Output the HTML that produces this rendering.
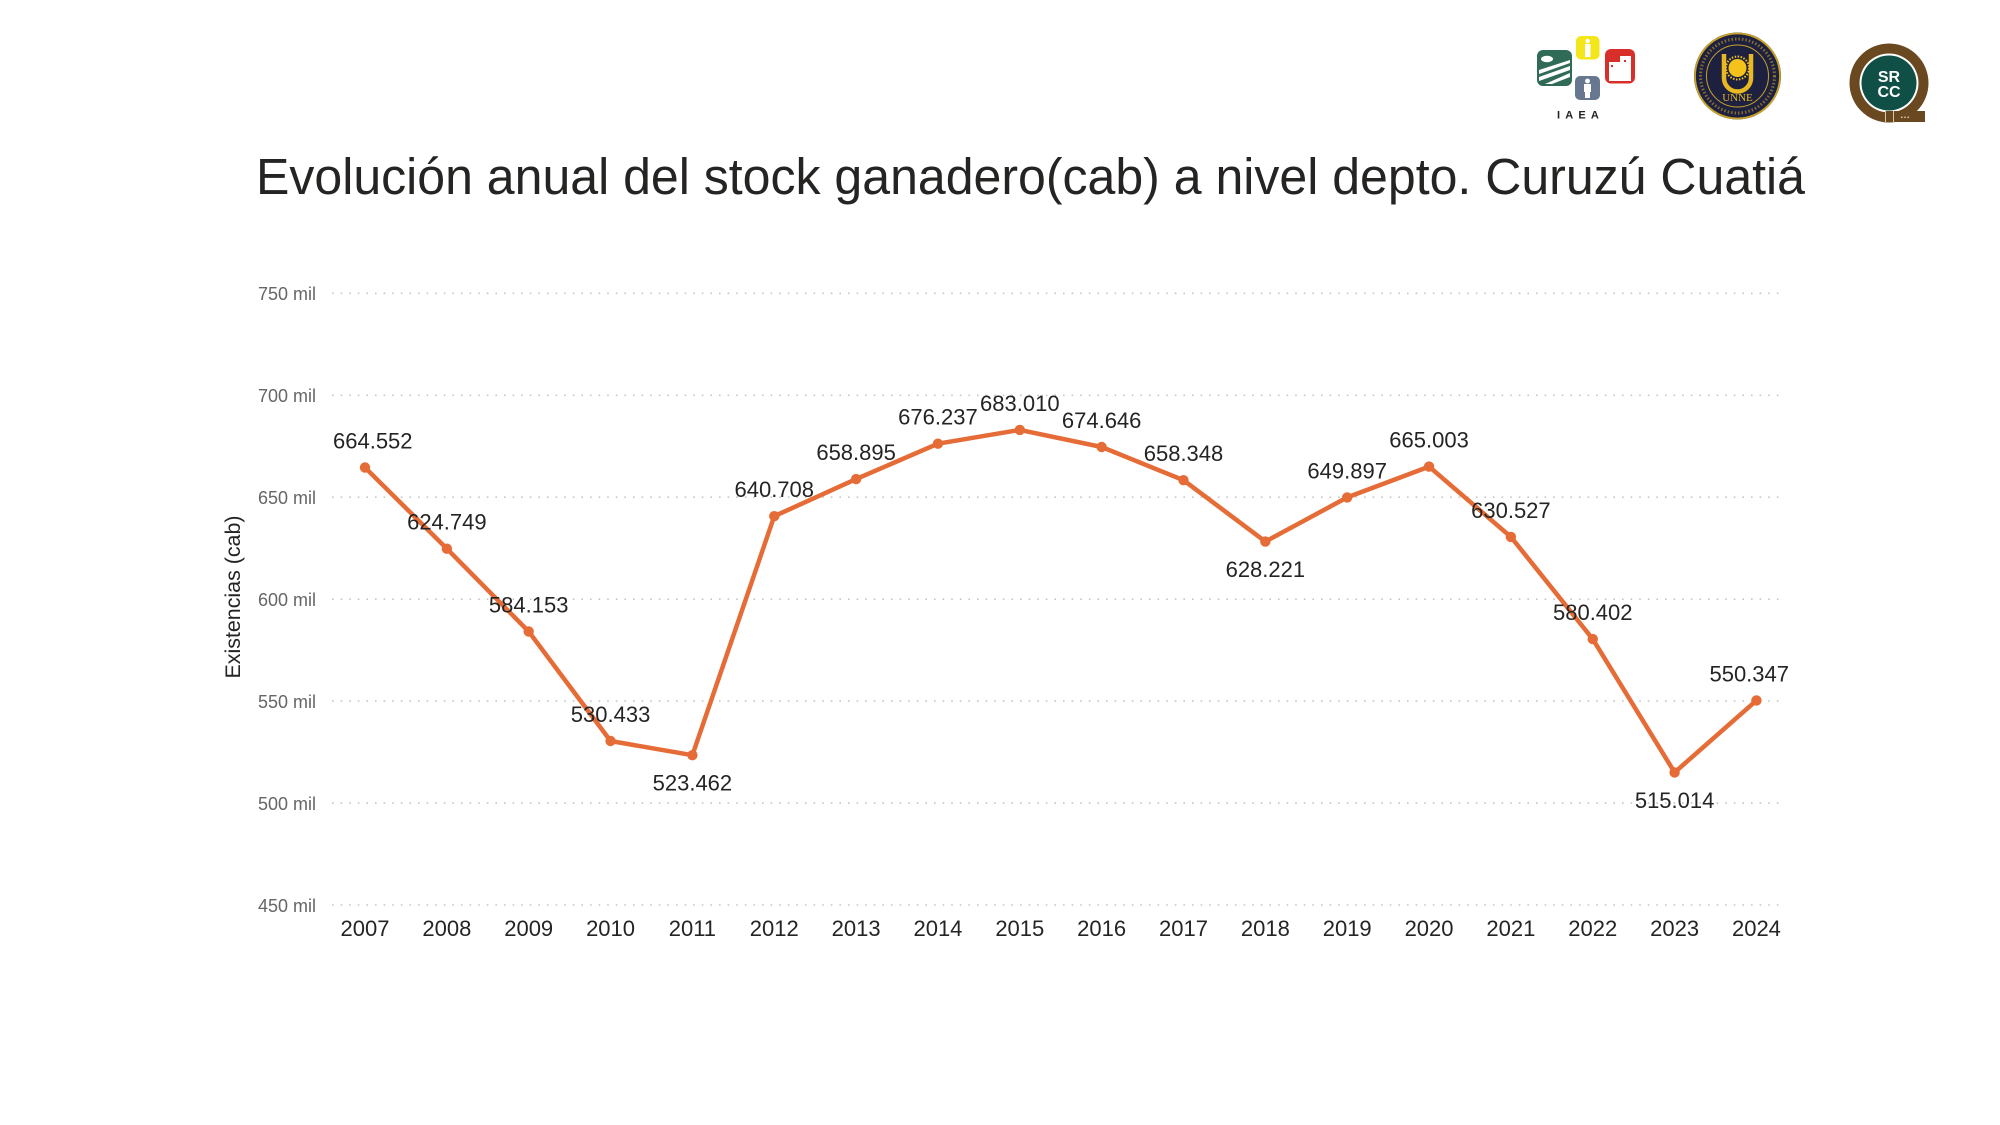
<!DOCTYPE html>
<html>
<head>
<meta charset="utf-8">
<style>
html,body{margin:0;padding:0;background:#fff;}
svg{display:block;}
</style>
</head>
<body>
<svg width="2000" height="1125" viewBox="0 0 2000 1125" xmlns="http://www.w3.org/2000/svg">
<rect x="0" y="0" width="2000" height="1125" fill="#ffffff"/>

<!-- Logos -->
<!-- IAEA -->
<g>
  <rect x="1537" y="50" width="35" height="36" rx="6" fill="#2f6b56"/>
  <polygon points="1539,70 1570,60 1570,63 1539,74" fill="#ffffff"/>
  <polygon points="1539,77 1570,66 1570,70 1539,81" fill="#ffffff"/>
  <polygon points="1545,84 1570,73 1570,77 1552,84" fill="#ffffff"/>
  <ellipse cx="1547" cy="59" rx="6" ry="3.2" fill="#ffffff"/>
  <rect x="1576" y="36" width="23.5" height="23.5" rx="5" fill="#f3e61a"/>
  <circle cx="1587.7" cy="41" r="2.2" fill="#ffffff"/>
  <rect x="1585" y="44" width="5.5" height="13" fill="#ffffff"/>
  <rect x="1605" y="49" width="30" height="34.5" rx="6" fill="#d82f2a"/>
  <rect x="1609" y="62" width="11" height="19" fill="#ffffff"/>
  <rect x="1620" y="56" width="11" height="25" fill="#ffffff"/>
  <rect x="1611" y="65" width="2" height="2" fill="#d82f2a"/>
  <rect x="1624" y="60" width="2" height="2" fill="#d82f2a"/>
  <rect x="1575" y="76" width="25" height="24" rx="5" fill="#66778f"/>
  <circle cx="1587.5" cy="81" r="2.4" fill="#ffffff"/>
  <rect x="1584" y="84" width="7" height="8" fill="#ffffff"/>
  <rect x="1585" y="92" width="5" height="6" fill="#ffffff"/>
  <text x="1580.5" y="118.5" font-family="Liberation Sans, sans-serif" font-size="11" font-weight="bold" fill="#222" text-anchor="middle" letter-spacing="5.2">IAEA</text>
</g>
<!-- UNNE -->
<g>
  <circle cx="1737.5" cy="76" r="43.5" fill="#1e2040"/>
  <circle cx="1737.5" cy="76" r="42.5" fill="none" stroke="#c9a227" stroke-width="1.8"/>
  <circle cx="1737.5" cy="76" r="31" fill="none" stroke="#c9a227" stroke-width="1"/>
  <circle cx="1737.5" cy="76" r="37" fill="none" stroke="#c9a227" stroke-width="3" stroke-dasharray="1.5 2" opacity="0.6"/>
  <path d="M1724,54 L1724,78 A13.5,13.5 0 0 0 1751,78 L1751,54" fill="none" stroke="#e8b923" stroke-width="4.5"/>
  <circle cx="1737.5" cy="68" r="9" fill="#f4c21b"/>
  <circle cx="1737.5" cy="68" r="11.5" fill="none" stroke="#f4c21b" stroke-width="2" stroke-dasharray="1.5 1.5"/>
  <text x="1737.5" y="101" font-family="Liberation Serif, serif" font-size="11" fill="#e8b923" text-anchor="middle">UNNE</text>
</g>
<!-- SRCC -->
<g>
  <circle cx="1889" cy="83" r="39.5" fill="#6a4820"/>
  <circle cx="1889" cy="83" r="29.5" fill="#ffffff"/>
  <circle cx="1889" cy="83" r="27.5" fill="#0f4f45"/>
  <text x="1889" y="82" font-family="Liberation Sans, sans-serif" font-size="16" font-weight="bold" fill="#ffffff" text-anchor="middle">SR</text>
  <text x="1889" y="97" font-family="Liberation Sans, sans-serif" font-size="16" font-weight="bold" fill="#ffffff" text-anchor="middle">CC</text>
  <rect x="1885" y="111" width="40" height="11" fill="#6a4820"/>
  <rect x="1885" y="111" width="1" height="11" fill="#d8c8a8"/>
  <rect x="1893" y="111" width="1" height="11" fill="#d8c8a8"/>
  <text x="1905" y="119" font-family="Liberation Sans, sans-serif" font-size="5" fill="#ffffff" text-anchor="middle">• • •</text>
</g>

<!-- Title -->
<text x="256" y="194" font-family="Liberation Sans, sans-serif" font-size="51" fill="#252423" textLength="1549" lengthAdjust="spacingAndGlyphs">Evolución anual del stock ganadero(cab) a nivel depto. Curuzú Cuatiá</text>

<!-- Gridlines -->
<g stroke="#c8c6c4" stroke-width="1.6" stroke-dasharray="1.6 7" fill="none">
  <line x1="332" y1="293.3" x2="1784" y2="293.3"/>
  <line x1="332" y1="395.3" x2="1784" y2="395.3"/>
  <line x1="332" y1="497.2" x2="1784" y2="497.2"/>
  <line x1="332" y1="599.2" x2="1784" y2="599.2"/>
  <line x1="332" y1="701.1" x2="1784" y2="701.1"/>
  <line x1="332" y1="803.1" x2="1784" y2="803.1"/>
  <line x1="332" y1="905" x2="1784" y2="905"/>
</g>

<!-- Y axis labels -->
<g font-family="Liberation Sans, sans-serif" font-size="18" fill="#666666" text-anchor="end">
  <text x="316" y="300">750 mil</text>
  <text x="316" y="402">700 mil</text>
  <text x="316" y="504">650 mil</text>
  <text x="316" y="606">600 mil</text>
  <text x="316" y="708">550 mil</text>
  <text x="316" y="810">500 mil</text>
  <text x="316" y="912">450 mil</text>
</g>

<!-- Axis title -->
<text transform="translate(240,597) rotate(-90)" font-family="Liberation Sans, sans-serif" font-size="21" fill="#252423" text-anchor="middle" textLength="163" lengthAdjust="spacingAndGlyphs">Existencias (cab)</text>

<!-- X axis labels -->
<g font-family="Liberation Sans, sans-serif" font-size="22" fill="#252423" text-anchor="middle">
  <text x="365" y="936">2007</text>
  <text x="446.85" y="936">2008</text>
  <text x="528.7" y="936">2009</text>
  <text x="610.55" y="936">2010</text>
  <text x="692.4" y="936">2011</text>
  <text x="774.25" y="936">2012</text>
  <text x="856.1" y="936">2013</text>
  <text x="937.95" y="936">2014</text>
  <text x="1019.8" y="936">2015</text>
  <text x="1101.65" y="936">2016</text>
  <text x="1183.5" y="936">2017</text>
  <text x="1265.35" y="936">2018</text>
  <text x="1347.2" y="936">2019</text>
  <text x="1429.05" y="936">2020</text>
  <text x="1510.9" y="936">2021</text>
  <text x="1592.75" y="936">2022</text>
  <text x="1674.6" y="936">2023</text>
  <text x="1756.45" y="936">2024</text>
</g>

<!-- Series line -->
<polyline fill="none" stroke="#e66c37" stroke-width="4.5" stroke-linejoin="round" stroke-linecap="round"
 points="365,467.5 446.85,548.7 528.7,631.5 610.55,741 692.4,755.2 774.25,516.2 856.1,479.1 937.95,443.7 1019.8,429.9 1101.65,447 1183.5,480.2 1265.35,541.6 1347.2,497.4 1429.05,466.6 1510.9,536.9 1592.75,639.1 1674.6,772.4 1756.45,700.4"/>
<g fill="#e66c37">
  <circle cx="365" cy="467.5" r="5.2"/>
  <circle cx="446.85" cy="548.7" r="5.2"/>
  <circle cx="528.7" cy="631.5" r="5.2"/>
  <circle cx="610.55" cy="741" r="5.2"/>
  <circle cx="692.4" cy="755.2" r="5.2"/>
  <circle cx="774.25" cy="516.2" r="5.2"/>
  <circle cx="856.1" cy="479.1" r="5.2"/>
  <circle cx="937.95" cy="443.7" r="5.2"/>
  <circle cx="1019.8" cy="429.9" r="5.2"/>
  <circle cx="1101.65" cy="447" r="5.2"/>
  <circle cx="1183.5" cy="480.2" r="5.2"/>
  <circle cx="1265.35" cy="541.6" r="5.2"/>
  <circle cx="1347.2" cy="497.4" r="5.2"/>
  <circle cx="1429.05" cy="466.6" r="5.2"/>
  <circle cx="1510.9" cy="536.9" r="5.2"/>
  <circle cx="1592.75" cy="639.1" r="5.2"/>
  <circle cx="1674.6" cy="772.4" r="5.2"/>
  <circle cx="1756.45" cy="700.4" r="5.2"/>
</g>

<!-- Data labels -->
<g font-family="Liberation Sans, sans-serif" font-size="22" fill="#252423" text-anchor="middle">
  <text x="333" y="448.5" text-anchor="start">664.552</text>
  <text x="446.85" y="529.7">624.749</text>
  <text x="528.7" y="612.5">584.153</text>
  <text x="610.55" y="722">530.433</text>
  <text x="692.4" y="790.7">523.462</text>
  <text x="774.25" y="497.2">640.708</text>
  <text x="856.1" y="460.1">658.895</text>
  <text x="937.95" y="424.7">676.237</text>
  <text x="1019.8" y="410.9">683.010</text>
  <text x="1101.65" y="428">674.646</text>
  <text x="1183.5" y="461.2">658.348</text>
  <text x="1265.35" y="577.1">628.221</text>
  <text x="1347.2" y="478.4">649.897</text>
  <text x="1429.05" y="447.6">665.003</text>
  <text x="1510.9" y="517.9">630.527</text>
  <text x="1592.75" y="620.1">580.402</text>
  <text x="1674.6" y="807.9">515.014</text>
  <text x="1789" y="681.4" text-anchor="end">550.347</text>
</g>
</svg>
</body>
</html>
